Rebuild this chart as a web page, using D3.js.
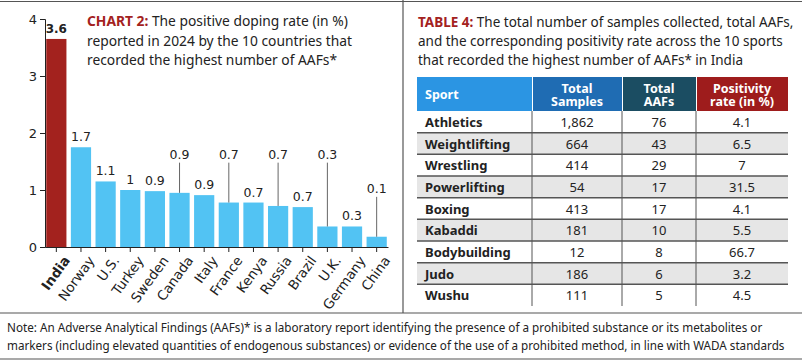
<!DOCTYPE html>
<html>
<head>
<meta charset="utf-8">
<script src="https://cdn.jsdelivr.net/npm/d3@7"></script>
<style>
  body { margin: 0; background: #fff; }
  svg { display: block; }
</style>
</head>
<body>
<div id="chart"></div>
<script>
// chart 2 data
const countries = ["India", "Norway", "U.S.", "Turkey", "Sweden", "Canada", "Italy",
  "France", "Kenya", "Russia", "Brazil", "U.K.", "Germany", "China"];
const rates = [3.65, 1.75, 1.15, 1.0, 0.98, 0.95, 0.91, 0.78, 0.78, 0.72, 0.7, 0.36, 0.36, 0.18];
const rateLabels = ["3.6", "1.7", "1.1", "1", "0.9", "0.9", "0.9", "0.7", "0.7", "0.7", "0.7", "0.3", "0.3", "0.1"];
const yTicks = [0, 1, 2, 3, 4];

// table 4 data
const sports = ["Athletics", "Weightlifting", "Wrestling", "Powerlifting", "Boxing",
  "Kabaddi", "Bodybuilding", "Judo", "Wushu"];
const samples = [1862, 664, 414, 54, 413, 181, 12, 186, 111];
const aafs = [76, 43, 29, 17, 17, 10, 8, 6, 5];
const positivity = ["4.1", "6.5", "7", "31.5", "4.1", "5.5", "66.7", "3.2", "4.5"];
const headers = [["Sport"], ["Total", "Samples"], ["Total", "AAFs"], ["Positivity", "rate (in %)"]];

const w = 802, h = 362;
const red = "#a3221e", blue = "#52c3f3", lineCol = "#555";
const sans = "'Noto Sans', sans-serif";
const dv = "'DejaVu Sans', sans-serif";

let svg = d3.select("#chart").append("svg")
  .attr("width", w).attr("height", h);

// frame lines
svg.append("line").attr("x1", 0).attr("x2", w).attr("y1", 1.5).attr("y2", 1.5)
  .attr("stroke", lineCol).attr("stroke-width", 1.2);
svg.append("line").attr("x1", 403).attr("x2", 403).attr("y1", 0).attr("y2", 313)
  .attr("stroke", lineCol).attr("stroke-width", 1.2);
svg.append("line").attr("x1", 0).attr("x2", w).attr("y1", 313).attr("y2", 313)
  .attr("stroke", lineCol).attr("stroke-width", 1.2);
svg.append("line").attr("x1", 0).attr("x2", w).attr("y1", 359).attr("y2", 359)
  .attr("stroke", lineCol).attr("stroke-width", 1.2);

// ---- bar chart ----
let x = d3.scaleBand().domain(countries).range([45, 388]).paddingInner(0.18).paddingOuter(0.05);
let y = d3.scaleLinear().domain([0, 4]).range([247, 19]);

let g = svg.append("g");

g.selectAll("rect.bar").data(countries).enter().append("rect")
  .attr("class", "bar")
  .attr("x", d => x(d))
  .attr("width", x.bandwidth())
  .attr("y", (d, i) => y(rates[i]))
  .attr("height", (d, i) => y(0) - y(rates[i]))
  .attr("fill", (d, i) => i == 0 ? red : blue);

// labels that sit higher with a leader line
const lifted = { "Canada": 1.55, "France": 1.55, "Russia": 1.55, "U.K.": 1.55, "China": 0.95 };

g.selectAll("line.leader").data(countries.filter(d => lifted[d] != null)).enter().append("line")
  .attr("x1", d => x(d) + x.bandwidth() / 2)
  .attr("x2", d => x(d) + x.bandwidth() / 2)
  .attr("y1", d => y(lifted[d]) + 4)
  .attr("y2", d => y(rates[countries.indexOf(d)]))
  .attr("stroke", "#666").attr("stroke-width", 1);

g.selectAll("text.val").data(countries).enter().append("text")
  .attr("x", d => x(d) + x.bandwidth() / 2)
  .attr("y", (d, i) => lifted[d] != null ? y(lifted[d]) : y(rates[i]) - 6)
  .attr("text-anchor", "middle")
  .attr("font-family", dv)
  .attr("font-size", (d, i) => i == 0 ? 12 : 12.5)
  .attr("font-weight", (d, i) => i == 0 ? "bold" : "normal")
  .attr("fill", "#222")
  .text((d, i) => rateLabels[i]);

let yAxis = g.append("g").attr("transform", "translate(45,0)")
  .call(d3.axisLeft(y).tickValues(yTicks).tickFormat(d3.format("d")).tickSize(5));
yAxis.selectAll("text").attr("font-family", dv).attr("font-size", 13).attr("fill", "#222");
yAxis.selectAll("line,path").attr("stroke", "#222");

let xAxis = g.append("g").attr("transform", "translate(0,247)")
  .call(d3.axisBottom(x).tickSize(5).tickSizeOuter(0));
xAxis.selectAll("line,path").attr("stroke", "#222");
xAxis.selectAll("text")
  .attr("font-family", dv).attr("font-size", 13.5).attr("fill", "#222")
  .attr("font-weight", d => d == "India" ? "bold" : "normal")
  .attr("text-anchor", "end")
  .attr("dy", "0.35em")
  .attr("transform", "translate(4,6) rotate(-54)");

// chart title
const chartTitle = [["CHART 2:", " The positive doping rate (in %)"],
  ["", "reported in 2024 by the 10 countries that"],
  ["", "recorded the highest number of AAFs*"]];
chartTitle.forEach((ln, i) => {
  let t = svg.append("text").attr("x", 87).attr("y", 26 + i * 19.5)
    .attr("font-family", sans).attr("font-size", 13.8).attr("fill", "#222");
  if (ln[0]) t.append("tspan").attr("font-weight", "bold").attr("fill", red).text(ln[0]);
  t.append("tspan").text(ln[1]);
});

// ---- table ----
const tableTitle = [["TABLE 4:", " The total number of samples collected, total AAFs,"],
  ["", "and the corresponding positivity rate across the 10 sports"],
  ["", "that recorded the highest number of AAFs* in India"]];
tableTitle.forEach((ln, i) => {
  let t = svg.append("text").attr("x", 418).attr("y", 27 + i * 19)
    .attr("font-family", sans).attr("font-size", 13.5).attr("fill", "#222");
  if (ln[0]) t.append("tspan").attr("font-weight", "bold").attr("fill", red).text(ln[0]);
  t.append("tspan").text(ln[1]);
});

const colX = [417, 532, 622, 696, 788];
const headFill = ["#2b95e3", "#1f6cb3", "#1b4d62", "#9e1c1c"];
const headTop = 77, headBot = 111;
let rowY = d3.scaleBand().domain(sports).range([headBot, 306]);

let tb = svg.append("g");
tb.selectAll("rect.head").data(headers).enter().append("rect")
  .attr("x", (d, i) => colX[i] + (i ? 1 : 0))
  .attr("width", (d, i) => colX[i + 1] - colX[i] - (i ? 1 : 0))
  .attr("y", headTop).attr("height", headBot - headTop)
  .attr("fill", (d, i) => headFill[i]);

headers.forEach((hd, i) => {
  let cx = i == 0 ? colX[0] + 8 : (colX[i] + colX[i + 1]) / 2;
  let t = tb.append("text")
    .attr("x", cx)
    .attr("y", hd.length == 1 ? 99 : 93)
    .attr("text-anchor", i == 0 ? "start" : "middle")
    .attr("font-family", sans).attr("font-size", 12.5).attr("font-weight", "bold")
    .attr("fill", "#fff");
  hd.forEach((s, j) => {
    t.append("tspan").attr("x", cx).attr("dy", j ? 13 : 0).text(s);
  });
});

// row backgrounds
tb.selectAll("rect.row").data(sports).enter().append("rect")
  .attr("x", colX[0]).attr("width", colX[4] - colX[0])
  .attr("y", d => rowY(d)).attr("height", rowY.bandwidth())
  .attr("fill", (d, i) => i % 2 ? "#e6e6e6" : "#fff");

// row separators
tb.selectAll("line.sep").data(sports.slice(1)).enter().append("line")
  .attr("x1", colX[0]).attr("x2", colX[4])
  .attr("y1", d => rowY(d)).attr("y2", d => rowY(d))
  .attr("stroke", lineCol).attr("stroke-width", 1.5);

// column separators
tb.selectAll("line.col").data(colX.slice(1, 4)).enter().append("line")
  .attr("x1", d => d).attr("x2", d => d)
  .attr("y1", headBot).attr("y2", 306)
  .attr("stroke", lineCol).attr("stroke-width", 1);

const fmt = d3.format(",");
sports.forEach((s, i) => {
  let ty = rowY(s) + rowY.bandwidth() / 2 + 5;
  tb.append("text").attr("x", colX[0] + 8).attr("y", ty)
    .attr("font-family", sans).attr("font-size", 13).attr("font-weight", "bold")
    .attr("fill", "#222").text(s);
  [fmt(samples[i]), aafs[i], positivity[i]].forEach((v, j) => {
    tb.append("text").attr("x", (colX[j + 1] + colX[j + 2]) / 2).attr("y", ty)
      .attr("text-anchor", "middle")
      .attr("font-family", sans).attr("font-size", 13)
      .attr("fill", "#222").text(v);
  });
});

// note (condensed face in the original, so squeeze horizontally)
const note = ["Note: An Adverse Analytical Findings (AAFs)* is a laboratory report identifying the presence of a prohibited substance or its metabolites or",
  "markers (including elevated quantities of endogenous substances) or evidence of the use of a prohibited method, in line with WADA standards"];
const noteLen = [756, 778];
note.forEach((s, i) => {
  let t = svg.append("text")
    .attr("font-family", sans).attr("font-size", 13).attr("fill", "#222")
    .text(s);
  let k = noteLen[i] / t.node().getComputedTextLength();
  t.attr("transform", `translate(7,${332 + i * 18}) scale(${k},1)`);
});
</script>
</body>
</html>
